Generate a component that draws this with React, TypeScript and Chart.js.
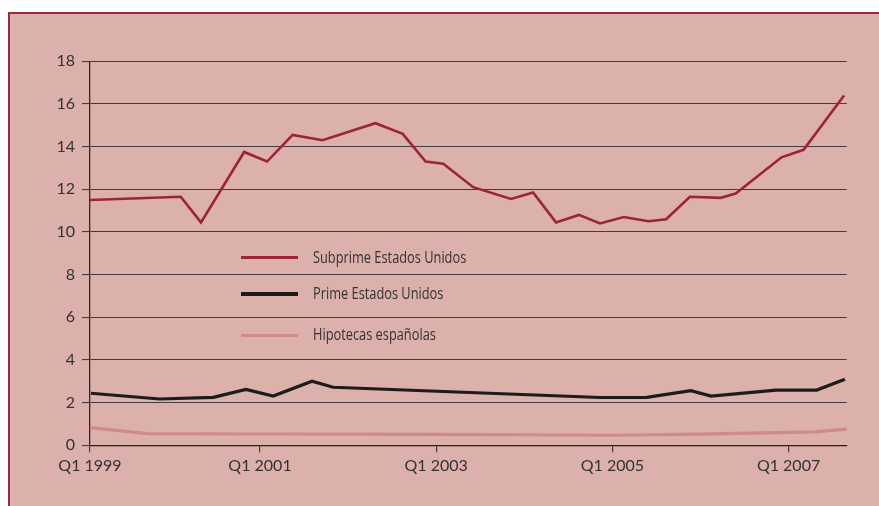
import React, { useEffect, useRef } from "react";
import { Chart, registerables } from "chart.js";

Chart.register(...registerables);

// ---- Data (x in decimal years, y in %) ----
const xTickYears = [1999, 2001, 2003, 2005, 2007];
const xMin = 1999.07;
const xMax = 2007.66;
const yTicks = [0, 2, 4, 6, 8, 10, 12, 14, 16, 18];

const subprimeYears = [1999.07, 2000.1, 2000.33, 2000.82, 2001.08, 2001.37, 2001.71, 2002.31, 2002.62, 2002.88, 2003.08, 2003.42, 2003.85, 2004.1, 2004.36, 2004.62, 2004.86, 2005.13, 2005.41, 2005.61, 2005.88, 2006.23, 2006.4, 2006.92, 2007.17, 2007.63];
const subprimeValues = [11.5, 11.65, 10.45, 13.75, 13.3, 14.55, 14.3, 15.1, 14.6, 13.3, 13.2, 12.1, 11.55, 11.85, 10.45, 10.8, 10.4, 10.7, 10.5, 10.6, 11.65, 11.6, 11.8, 13.5, 13.85, 16.4];

const primeYears = [1999.08, 1999.86, 2000.47, 2000.84, 2001.15, 2001.59, 2001.83, 2004.86, 2005.39, 2005.89, 2006.12, 2006.86, 2007.32, 2007.64];
const primeValues = [2.44, 2.17, 2.25, 2.62, 2.31, 3.0, 2.72, 2.24, 2.25, 2.56, 2.31, 2.59, 2.59, 3.1];

const spainYears = [1999.07, 1999.72, 2001.0, 2003.0, 2005.0, 2006.0, 2007.3, 2007.66];
const spainValues = [0.83, 0.55, 0.53, 0.51, 0.47, 0.52, 0.63, 0.76];

const seriesLabels = ["Subprime Estados Unidos", "Prime Estados Unidos", "Hipotecas españolas"];
const seriesColors = ["#9b2437", "#1c1c1c", "#cf8a8a"];
const seriesWidths = [2.6, 3.2, 3.2];

const toPoints = (xs: number[], ys: number[]) => xs.map((x, i) => ({ x, y: ys[i] }));

const BG = "#dcb0ab";
const BORDER = "#a0283c";
const TEXT = "#333333";
const GRID = "#3e3e3e";

export default function App() {
  const canvasRef = useRef<HTMLCanvasElement | null>(null);

  useEffect(() => {
    const canvas = canvasRef.current;
    if (!canvas) return;
    const chart = new Chart(canvas, {
      type: "line",
      data: {
        datasets: [
          {
            label: seriesLabels[0],
            data: toPoints(subprimeYears, subprimeValues),
            borderColor: seriesColors[0],
            borderWidth: seriesWidths[0],
            pointRadius: 0,
            tension: 0,
          },
          {
            label: seriesLabels[1],
            data: toPoints(primeYears, primeValues),
            borderColor: seriesColors[1],
            borderWidth: seriesWidths[1],
            pointRadius: 0,
            tension: 0,
          },
          {
            label: seriesLabels[2],
            data: toPoints(spainYears, spainValues),
            borderColor: seriesColors[2],
            borderWidth: seriesWidths[2],
            pointRadius: 0,
            tension: 0,
          },
        ],
      },
      options: {
        animation: false,
        responsive: false,
        devicePixelRatio: 1,
        layout: { padding: { top: 47.3, right: 32.3, left: 0, bottom: 0 } },
        plugins: { legend: { display: false }, tooltip: { enabled: false } },
        scales: {
          x: {
            type: "linear",
            min: xMin,
            max: xMax,
            afterBuildTicks: (scale: any) => {
              scale.ticks = [xMin, ...xTickYears.slice(1)].map((v) => ({ value: v }));
            },
            afterFit: (scale: any) => {
              scale.height = 60.7;
            },
            ticks: {
              autoSkip: false,
              maxRotation: 0,
              padding: 4,
              color: TEXT,
              font: { family: "Lato, 'Open Sans', sans-serif", size: 16 },
              callback: (v: any) => "Q1 " + Math.round(Number(v)),
            },
            grid: {
              drawOnChartArea: false,
              drawTicks: true,
              tickLength: 7,
              color: GRID,
              lineWidth: 1.2,
            },
            border: { display: true, color: "#222", width: 1.3 },
          },
          y: {
            min: 0,
            max: 18,
            afterBuildTicks: (scale: any) => {
              scale.ticks = yTicks.map((v) => ({ value: v }));
            },
            afterFit: (scale: any) => {
              scale.width = 80;
            },
            ticks: {
              padding: 7,
              color: TEXT,
              font: { family: "Lato, 'Open Sans', sans-serif", size: 16 },
            },
            grid: {
              drawTicks: true,
              tickLength: 8,
              color: GRID,
              lineWidth: 1.1,
            },
            border: { display: true, color: "#2a2a2a", width: 1.3 },
          },
        },
      },
    });
    return () => chart.destroy();
  }, []);

  const legendRows = [
    { top: 257.7, label: seriesLabels[0], color: seriesColors[0], w: 2.6 },
    { top: 294, label: seriesLabels[1], color: seriesColors[1], w: 3.2 },
    { top: 335.3, label: seriesLabels[2], color: seriesColors[2], w: 3.2 },
  ];

  return (
    <div
      style={{
        position: "absolute",
        left: 8,
        top: 12,
        width: 871,
        height: 494,
        boxSizing: "border-box",
        borderTop: `2px solid ${BORDER}`,
        borderLeft: `2px solid ${BORDER}`,
        background: BG,
        overflow: "hidden",
      }}
    >
      <canvas
        ref={canvasRef}
        width={869}
        height={492}
        style={{ position: "absolute", left: 0, top: 0, width: 869, height: 492 }}
      />
      {legendRows.map((r, i) => (
        <div key={i}>
          <div
            style={{
              position: "absolute",
              left: 241 - 10,
              top: r.top - 14 - r.w / 2,
              width: 57,
              height: r.w,
              background: r.color,
            }}
          />
          <div
            style={{
              position: "absolute",
              left: 313 - 10,
              top: r.top - 14 - 11,
              height: 20,
              lineHeight: "20px",
              fontFamily: "'Open Sans', sans-serif",
              fontSize: 16,
              color: TEXT,
              whiteSpace: "nowrap",
              transform: "scaleX(0.8)",
              transformOrigin: "left center",
            }}
          >
            {r.label}
          </div>
        </div>
      ))}
    </div>
  );
}
